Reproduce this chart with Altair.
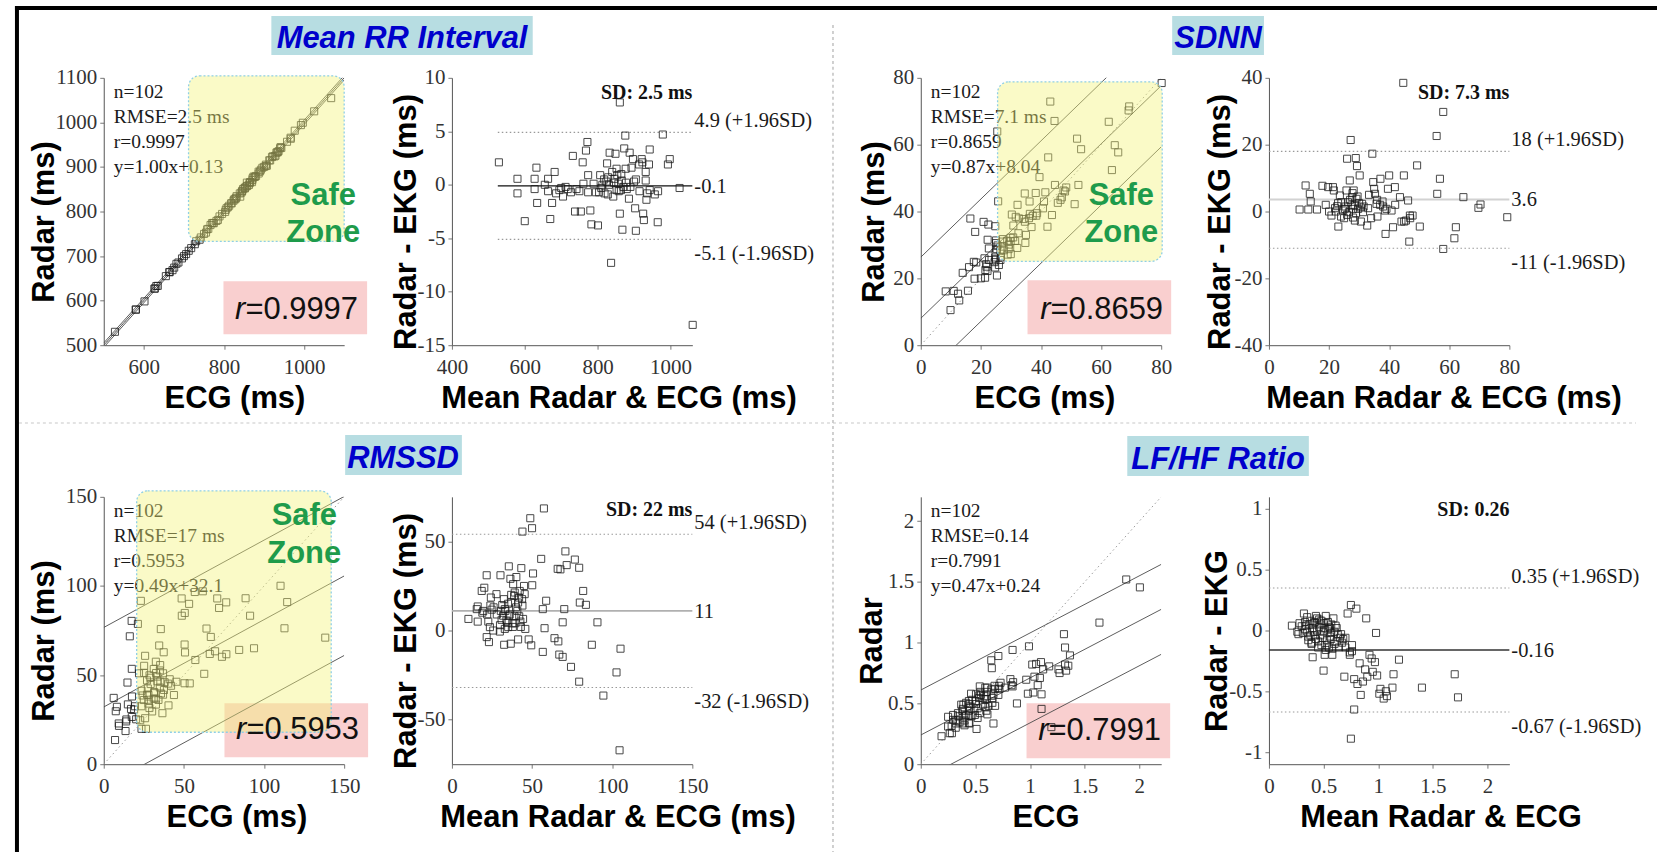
import altair as alt
import pandas as pd

SERIF = "Liberation Serif"
SANS = "Liberation Sans"

# ---------------- data (Bland-Altman means / differences) ----------------
MRR_MEAN = [529, 580, 580, 600, 627, 627, 632, 634, 655, 664,
            664, 670, 675, 682, 686, 695, 700, 705, 712, 718,
            727, 732, 738, 742, 750, 754, 759, 761, 768, 772,
            774, 774, 780, 783, 789, 795, 801, 804, 807, 810,
            813, 818, 819, 824, 826, 828, 829, 831, 833, 837,
            840, 843, 845, 846, 849, 852, 852, 854, 857, 858,
            861, 861, 864, 865, 866, 868, 871, 873, 876, 877,
            878, 880, 886, 888, 890, 893, 897, 900, 903, 905,
            905, 914, 915, 921, 923, 925, 927, 932, 932, 934,
            936, 941, 943, 943, 957, 965, 966, 979, 993, 998,
            1025, 1061]
MRR_DIFF = [2.1, 0.56, -0.8, -3.4, 0.56, -0.4, 1.6, -1.7, 0.0, 0.56,
            -0.6, -3.2, -1.7, 1.2, -0.8, -0.5, -0.3, -1.1, -0.2, -0.4,
            -0.7, 2.7, -2.5, -0.4, -0.6, -2.5, 2.1, 0.1, 3.2, 4.0,
            0.9, -0.7, -2.4, -3.7, 0.1, -0.7, -3.8, -0.7, 0.9, -0.3,
            0.0, 0.5, -0.8, 0.3, 2.0, -0.9, 0.7, 0.0, 3.0, -7.3,
            1.2, -1.1, 0.2, 0.56, 2.9, -0.5, 1.5, 0.9, 0.1, -0.6,
            -2.7, 7.7, -0.5, 1.0, 0.4, -4.2, -0.2, 3.4, 4.6, 1.5,
            0.2, -0.4, -1.3, 3.0, -0.2, 1.6, 2.4, 0.3, -2.2, -4.3,
            0.5, 1.9, -0.6, 2.4, 2.1, -2.7, -3.3, 1.2, 0.4, -1.4,
            -0.8, 1.9, 3.3, -0.5, -0.9, -3.5, -0.6, 4.7, 1.9, 2.4,
            -0.3, -13.1]

SDNN_MEAN = [10.2, 12.2, 13.1, 13.6, 13.9, 16.0, 17.8, 18.9, 19.7, 20.0,
             20.8, 21.3, 21.6, 22.0, 22.2, 22.7, 23.0, 23.1, 23.6, 24.0,
             24.1, 24.7, 25.0, 25.3, 25.5, 25.8, 26.0, 26.0, 26.3, 26.6,
             26.9, 27.0, 27.2, 27.4, 27.7, 28.0, 28.0, 28.2, 28.5, 28.6,
             28.9, 29.0, 29.1, 29.3, 29.5, 29.7, 30.2, 30.5, 30.6, 31.0,
             31.3, 31.5, 32.7, 33.0, 33.3, 34.0, 34.4, 34.7, 35.0, 35.3,
             35.8, 36.0, 36.1, 37.0, 37.1, 37.8, 38.0, 38.6, 38.8, 39.1,
             39.6, 40.0, 40.8, 41.3, 41.9, 42.0, 43.6, 44.1, 44.7, 44.9,
             45.0, 45.6, 46.3, 46.7, 46.9, 47.0, 47.8, 49.3, 50.2, 55.8,
             56.0, 56.9, 58.0, 58.0, 61.7, 62.2, 64.7, 69.7, 70.4, 79.3,
             27.8, 30.0]
SDNN_DIFF = [0.6, 7.8, 0.6, 5.3, 3.0, 0.6, 7.7, 2.0, 7.3, 0.0,
             -1.2, 7.3, 6.3, 1.0, 0.0, 1.6, 2.5, -4.5, 4.8, -1.5,
             2.8, 0.3, -2.0, 0.8, 1.5, 6.3, 15.8, -1.0, 2.8, -0.2,
             9.3, 3.5, 21.4, 1.8, 4.3, 0.8, -1.8, 6.3, 2.0, -2.7,
             16.0, -0.5, 3.8, 13.6, 4.5, 0.8, 10.8, 1.2, -3.0, 2.3,
             -0.2, 1.5, -4.2, 1.0, 5.0, -2.0, 17.3, 8.8, 6.8, 5.3,
             2.3, 3.5, -1.5, 2.0, 9.8, 3.0, 1.5, 0.3, -6.7, 0.8,
             6.8, 10.8, 0.3, -4.7, 7.3, 2.0, 4.3, -3.0, 38.5, 10.8,
             -3.0, -2.7, 3.3, -9.0, -1.2, -2.0, -1.2, 13.8, -4.5, 22.6,
             5.3, 9.8, -11.2, 29.8, -8.0, -4.7, 4.3, 1.1, 2.1, -1.7,
             5.5, 2.5]

RMSSD_MEAN = [10.3, 16.1, 15.5, 16.1, 18.6, 19.0, 19.6, 20.2, 21.7, 21.7,
              22.0, 22.7, 23.1, 23.7, 24.0, 24.3, 24.8, 25.8, 26.0, 27.8,
              28.0, 29.9, 30.0, 30.3, 30.5, 31.0, 31.4, 32.0, 32.4, 32.6,
              33.0, 33.0, 33.4, 34.0, 34.6, 35.0, 35.1, 35.5, 35.7, 36.0,
              36.5, 36.7, 37.0, 37.1, 37.7, 38.0, 38.2, 38.8, 39.0, 39.2,
              39.6, 40.0, 40.2, 40.8, 41.3, 41.3, 41.9, 42.0, 42.3, 42.7,
              43.0, 43.3, 43.8, 44.0, 44.0, 44.4, 45.0, 45.4, 45.8, 47.9,
              48.9, 49.5, 50.0, 50.1, 50.6, 55.7, 56.7, 56.7, 57.4, 57.8,
              58.8, 64.0, 66.0, 66.4, 67.0, 67.7, 69.1, 69.1, 70.1, 70.8,
              71.6, 74.3, 76.7, 79.4, 79.4, 79.8, 81.9, 83.6, 87.3, 90.8,
              94.5, 102.7, 104.6, 105.2]
RMSSD_DIFF = [6.5, 5.0, 12.0, 13.5, 22.2, 10.0, 11.0, 24.0, 31.0, -3.7,
              9.0, 5.0, -6.5, 1.9, 14.0, 18.5, 11.7, 0.0, 13.0, 20.4,
              9.0, -0.6, 3.0, 31.0, 11.0, 6.0, 14.3, 8.3, 17.6, -8.0,
              0.9, 12.0, 11.0, 5.6, 4.3, 15.0, 1.9, 36.0, 8.3, 9.0,
              29.0, -7.4, 20.0, 15.7, 4.0, 2.0, 26.0, 19.4, 8.0, 21.3,
              4.1, 13.0, 30.0, 11.0, -5.0, 15.7, 18.5, 8.0, 22.2, 5.0,
              2.0, 35.0, 17.6, 55.5, 14.0, 6.5, 25.0, 20.4, 0.9, -5.0,
              63.0, -8.3, 57.4, 25.4, 32.0, 40.2, -12.0, 12.0, 68.5, 1.3,
              16.7, -4.3, 34.6, -6.1, -13.5, 34.3, -14.8, 4.6, 12.0, 44.4,
              36.7, -20.4, 39.8, 35.2, -28.7, 15.7, 22.2, 14.4, -8.0, 4.6,
              -36.5, -23.5, -67.2, -10.2]

LFHF_MEAN = [0.21, 0.26, 0.27, 0.28, 0.30, 0.31, 0.32, 0.33, 0.33, 0.34,
             0.35, 0.35, 0.36, 0.36, 0.37, 0.38, 0.38, 0.39, 0.39, 0.40,
             0.40, 0.41, 0.41, 0.42, 0.42, 0.43, 0.43, 0.44, 0.44, 0.45,
             0.45, 0.46, 0.46, 0.47, 0.47, 0.48, 0.48, 0.49, 0.50, 0.50,
             0.50, 0.51, 0.51, 0.52, 0.52, 0.53, 0.53, 0.54, 0.54, 0.55,
             0.55, 0.56, 0.56, 0.57, 0.57, 0.57, 0.58, 0.58, 0.59, 0.60,
             0.60, 0.61, 0.62, 0.62, 0.63, 0.64, 0.65, 0.66, 0.67, 0.68,
             0.69, 0.70, 0.70, 0.72, 0.74, 0.74, 0.75, 0.75, 0.76, 0.76,
             0.78, 0.78, 0.80, 0.81, 0.83, 0.84, 0.86, 0.88, 0.89, 0.90,
             0.92, 0.94, 0.95, 0.97, 0.98, 0.99, 1.01, 1.02, 1.05, 1.07,
             1.08, 1.13, 1.14, 1.19, 1.40, 1.70, 1.73]
LFHF_DIFF = [0.04, -0.01, -0.03, 0.06, 0.035, -0.02, 0.14, 0.01, 0.07, 0.04,
             0.11, -0.01, -0.05, -0.08, 0.05, -0.04, 0.08, -0.11, -0.10, -0.22,
             0.02, -0.01, 0.06, 0.07, -0.04, -0.07, 0.12, 0.10, 0.0, -0.14,
             -0.09, 0.03, 0.09, -0.04, 0.05, 0.08, -0.12, -0.06, -0.33, -0.01,
             0.06, -0.20, 0.02, 0.12, -0.16, -0.08, -0.12, 0.01, 0.07, -0.14,
             0.03, -0.05, 0.02, 0.05, -0.07, -0.02, -0.20, -0.15, 0.10, -0.01,
             -0.11, 0.04, -0.09, 0.02, -0.03, -0.14, -0.06, -0.03, -0.10, -0.07,
             -0.38, -0.14, -0.06, 0.14, -0.18, -0.20, 0.21, -0.89, -0.12, -0.17,
             -0.40, -0.65, 0.18, -0.44, -0.27, -0.53, -0.42, -0.32, 0.10, -0.38,
             -0.20, -0.23, -0.34, -0.26, -0.02, -0.37, -0.52, -0.48, -0.56, -0.50,
             -0.54, -0.47, -0.36, -0.24, -0.47, -0.36, -0.55]

# regression: slope, intercept, half width of the parallel limit lines
MRR_FIT = [1.00, 0.13, 4.9]
SDNN_FIT = [0.87, 8.04, 18.3]
RMSSD_FIT = [0.49, 32.1, 44.6]
LFHF_FIT = [0.47, 0.24, 0.37]

# Bland-Altman: mean bias, +1.96SD, -1.96SD
MRR_BA = [-0.1, 4.9, -5.1]
SDNN_BA = [3.6, 18, -11]
RMSSD_BA = [11, 54, -32]
LFHF_BA = [-0.16, 0.35, -0.67]

MRR_BA_LABELS = ["-0.1", "4.9 (+1.96SD)", "-5.1 (-1.96SD)"]
SDNN_BA_LABELS = ["3.6", "18 (+1.96SD)", "-11 (-1.96SD)"]
RMSSD_BA_LABELS = ["11", "54 (+1.96SD)", "-32 (-1.96SD)"]
LFHF_BA_LABELS = ["-0.16", "0.35 (+1.96SD)", "-0.67 (-1.96SD)"]

SD_TEXT = ["SD: 2.5 ms", "SD: 7.3 ms", "SD: 22 ms", "SD: 0.26"]

STATS = [
    ["n=102", "RMSE=2.5 ms", "r=0.9997", "y=1.00x+0.13"],
    ["n=102", "RMSE=7.1 ms", "r=0.8659", "y=0.87x+8.04"],
    ["n=102", "RMSE=17 ms", "r=0.5953", "y=0.49x+32.1"],
    ["n=102", "RMSE=0.14", "r=0.7991", "y=0.47x+0.24"],
]
R_VALUES = ["=0.9997", "=0.8659", "=0.5953", "=0.7991"]
TITLES = ["Mean RR Interval", "SDNN", "RMSSD", "LF/HF Ratio"]

# tick labels
MRR_X_TICKS = [600, 800, 1000]
MRR_Y_TICKS = [500, 600, 700, 800, 900, 1000, 1100]
MRR_BA_X_TICKS = [400, 600, 800, 1000]
MRR_BA_Y_TICKS = [-15, -10, -5, 0, 5, 10]
SDNN_TICKS = [0, 20, 40, 60, 80]
SDNN_BA_Y_TICKS = [-40, -20, 0, 20, 40]
RMSSD_TICKS = [0, 50, 100, 150]
RMSSD_BA_Y_TICKS = [-50, 0, 50]
LFHF_TICKS = [0, 0.5, 1, 1.5, 2]
LFHF_BA_Y_TICKS = [-1, -0.5, 0, 0.5, 1]

W, H = 241, 268
ONE = pd.DataFrame({"a": [0]})
BLUE = "#0000cc"
TEAL = "#b7dde2"
PINK = "#f9cfcf"
GREEN = "#1e9b4b"
PT_SIZE = 50


def sc(dom):
    return alt.Scale(domain=dom, nice=False, zero=False)


def ax_x(values, title, tx):
    return alt.Axis(values=values, title=title, titleX=tx, titleY=62, titleAlign="center",
                    titleBaseline="alphabetic", labelExpr="'' + datum.value",
                    labelFlush=False, labelOverlap=False, grid=False, labelPadding=7)


def ax_y(values, title, tx):
    return alt.Axis(values=values, title=title, titleX=tx, titleY=144, titleAlign="center",
                    titleAngle=270, titleBaseline="middle", labelExpr="'' + datum.value",
                    labelFlush=False, labelOverlap=False, grid=False, labelPadding=3)


def drect(x, x2, y, y2, **kw):
    return alt.Chart(ONE).mark_rect(**kw).encode(
        x=alt.value(x), x2=alt.value(x2), y=alt.value(y), y2=alt.value(y2))


def dtext(txt, x, y, **kw):
    return alt.Chart(ONE).mark_text(**kw).encode(
        x=alt.value(x), y=alt.value(y), text=alt.value(txt))


def drule(x, x2, y, y2, **kw):
    return alt.Chart(ONE).mark_rule(**kw).encode(
        x=alt.value(x), x2=alt.value(x2), y=alt.value(y), y2=alt.value(y2))


def scatter_panel(i, mean, diff, fit, dom, xticks, yticks, xtitle, ytitle, xtx, ytx,
                  title_box, rbox, zone, safe_xy, extra=None):
    ecg = [m - d / 2 for m, d in zip(mean, diff)]
    radar = [m + d / 2 for m, d in zip(mean, diff)]
    df = pd.DataFrame({"x": ecg, "y": radar})
    X = alt.X("x:Q", scale=sc(dom), axis=ax_x(xticks, xtitle, xtx))
    Y = alt.Y("y:Q", scale=sc(dom), axis=ax_y(yticks, ytitle, ytx))
    slope, icpt, half = fit
    x0, x1 = dom
    rows = []
    for k, off in (("fit", 0), ("up", half), ("lo", -half)):
        rows.append({"x": x0, "y": slope * x0 + icpt + off, "k": k})
        rows.append({"x": x1, "y": slope * x1 + icpt + off, "k": k})
    ldf = pd.DataFrame(rows)
    idf = pd.DataFrame({"x": [x0, x1], "y": [x0, x1]})

    layers = list(extra or [])
    bx0, bx1, by0, by1, tx = title_box
    layers.append(drect(bx0, bx1, by0, by1, fill=TEAL))
    layers.append(dtext(TITLES[i], tx, by1 - 7, font=SANS, fontSize=31, fontWeight="bold",
                        fontStyle="italic", color=BLUE, align="center", baseline="alphabetic"))
    rx0, rx1, ry0, ry1, split, base = rbox
    layers.append(drect(rx0, rx1, ry0, ry1, fill=PINK))
    layers.append(alt.Chart(idf).mark_line(clip=True, color="#999", strokeWidth=1,
                                           strokeDash=[1.5, 3]).encode(x=X, y=Y))
    layers.append(alt.Chart(ldf).mark_line(clip=True, color="#4a4a4a", strokeWidth=0.9).encode(
        x=X, y=Y, detail="k:N"))
    layers.append(alt.Chart(df).mark_point(shape="square", filled=False, size=PT_SIZE,
                                           strokeWidth=1, color="#1a1a1a",
                                           opacity=0.8).encode(x=X, y=Y))
    layers.append(dtext("\n".join(STATS[i]), 10, 20, font=SERIF, fontSize=19.5, color="#1a1a1a",
                        align="left", baseline="alphabetic", lineBreak="\n", lineHeight=25))
    if zone is not None:
        zx0, zx1, zy0, zy1 = zone
        layers.append(drect(zx0, zx1, zy0, zy1, fill="#f3f37a", fillOpacity=0.42,
                            stroke="#8fcfe6", strokeDash=[2, 2], strokeWidth=1.3, cornerRadius=11))
        sx, sy = safe_xy
        layers.append(dtext("Safe\nZone", sx, sy, font=SANS, fontSize=31, fontWeight="bold",
                            color=GREEN, align="center", baseline="alphabetic",
                            lineBreak="\n", lineHeight=38))
    layers.append(dtext("r", split, base, font=SANS, fontSize=31, fontStyle="italic",
                        color="#111", align="right", baseline="alphabetic"))
    layers.append(dtext(R_VALUES[i], split, base, font=SANS, fontSize=31,
                        color="#111", align="left", baseline="alphabetic"))
    return alt.layer(*layers).properties(width=W, height=H)


def ba_panel(i, mean, diff, xdom, xticks, ydom, yticks, xtitle, ytitle, xtx, ytx,
             ba, labels, line_x, mean_color, mean_width, sd_y):
    df = pd.DataFrame({"x": mean, "y": diff})
    X = alt.X("x:Q", scale=sc(xdom), axis=ax_x(xticks, xtitle, xtx))
    Y = alt.Y("y:Q", scale=sc(ydom), axis=ax_y(yticks, ytitle, ytx))
    lx0, lx1 = line_x
    mdf = pd.DataFrame({"x": [lx0, lx1], "y": [ba[0], ba[0]]})
    ddf = pd.DataFrame({"x": [lx0, lx1, lx0, lx1], "y": [ba[1], ba[1], ba[2], ba[2]],
                        "k": ["u", "u", "l", "l"]})
    layers = [
        alt.Chart(ddf).mark_line(color="#999", strokeWidth=1.1, strokeDash=[1.5, 2.5]).encode(
            x=X, y=Y, detail="k:N"),
        alt.Chart(mdf).mark_line(color=mean_color, strokeWidth=mean_width).encode(x=X, y=Y),
        alt.Chart(df).mark_point(shape="square", filled=False, size=PT_SIZE, strokeWidth=1,
                                 color="#1a1a1a", opacity=0.8).encode(x=X, y=Y),
        dtext(SD_TEXT[i], W, sd_y, font=SERIF, fontSize=20, fontWeight="bold", color="#111",
              align="right", baseline="alphabetic"),
    ]
    specs = [(0, "middle", 1), (1, "alphabetic", -5), (2, "top", 5)]
    for j, bl, dy in specs:
        tdf = pd.DataFrame({"y": [ba[j]], "t": [labels[j]]})
        layers.append(alt.Chart(tdf).mark_text(font=SERIF, fontSize=20.5, color="#1a1a1a",
                                               align="left", baseline=bl, dy=dy).encode(
            x=alt.value(W + 2), y=Y, text="t:N"))
    return alt.layer(*layers).properties(width=W, height=H)


# page decorations (outer frame and dotted quadrant dividers), placed from panel 1
frame = [
    drule(-87, -87, -72, 777, color="#000", strokeWidth=4),
    drule(-89, 1557, -70, -70, color="#000", strokeWidth=4),
    drule(731, 731, -53, 777, color="#aaa", strokeWidth=1.1, strokeDash=[3, 3]),
    drule(-85, 1536, 346, 346, color="#c8c8c8", strokeWidth=1.1, strokeDash=[3, 3]),
]

p1 = scatter_panel(0, MRR_MEAN, MRR_DIFF, MRR_FIT, [500, 1100], MRR_X_TICKS, MRR_Y_TICKS,
                   "ECG (ms)", "Radar (ms)", 131, -59,
                   (168, 430, -62, -23, 299), (120, 264, 204, 257, 142, 242),
                   (85, 241, -2, 164), (220, 127), extra=frame)
p2 = ba_panel(0, MRR_MEAN, MRR_DIFF, [400, 1060], MRR_BA_X_TICKS, [-15, 10],
              MRR_BA_Y_TICKS, "Mean Radar & ECG (ms)", "Radar - EKG (ms)", 167, -45,
              MRR_BA, MRR_BA_LABELS, (526, 1060), "#111", 1.3, 21)
p3 = scatter_panel(1, SDNN_MEAN, SDNN_DIFF, SDNN_FIT, [0, 80], SDNN_TICKS, SDNN_TICKS,
                   "ECG (ms)", "Radar (ms)", 124, -46,
                   (252, 344, -62, -23, 298), (107, 251, 203, 257, 130, 242),
                   (77, 242, 4, 184), (201, 127))
p4 = ba_panel(1, SDNN_MEAN, SDNN_DIFF, [0, 80], SDNN_TICKS, [-40, 40],
              SDNN_BA_Y_TICKS, "Mean Radar & ECG (ms)", "Radar - EKG (ms)", 175, -49,
              SDNN_BA, SDNN_BA_LABELS, (0, 80), "#d2d2d2", 2.2, 21)
p5 = scatter_panel(2, RMSSD_MEAN, RMSSD_DIFF, RMSSD_FIT, [0, 150], RMSSD_TICKS, RMSSD_TICKS,
                   "ECG (ms)", "Radar (ms)", 133, -59,
                   (242, 359, -62, -22, 300), (121, 265, 207, 261, 143, 243),
                   (33, 228, -6, 236), (201, 28))
p6 = ba_panel(2, RMSSD_MEAN, RMSSD_DIFF, [0, 150], RMSSD_TICKS, [-75, 75],
              RMSSD_BA_Y_TICKS, "Mean Radar & ECG (ms)", "Radar - EKG (ms)", 166, -45,
              RMSSD_BA, RMSSD_BA_LABELS, (0, 150), "#b0b0b0", 1.6, 19)
p7 = scatter_panel(3, LFHF_MEAN, LFHF_DIFF, LFHF_FIT, [0, 2.2], LFHF_TICKS, LFHF_TICKS,
                   "ECG", "Radar", 125, -48,
                   (207, 389, -61, -21, 298), (106, 250, 207, 262, 128, 244),
                   None, None)
p8 = ba_panel(3, LFHF_MEAN, LFHF_DIFF, [0, 2.2], LFHF_TICKS, [-1.1, 1.1],
              LFHF_BA_Y_TICKS, "Mean Radar & ECG", "Radar - EKG", 172, -52,
              LFHF_BA, LFHF_BA_LABELS, (0, 2.2), "#333", 1.5, 19)


def spacer():
    return alt.Chart(ONE).mark_point(opacity=0).encode(
        x=alt.value(0), y=alt.value(0)).properties(width=13, height=H)


chart = alt.concat(p1, p2, spacer(), p3, p4, p5, p6, spacer(), p7, p8,
                   columns=5, spacing={"row": 152, "column": 108},
                   bounds="flush", align="each").properties(
    padding={"left": 13, "top": 3, "right": 0, "bottom": 0},
    background="white",
).configure_view(stroke=None).configure_axis(
    domainColor="#555", domainWidth=1, tickColor="#777", tickSize=4, tickWidth=1,
    labelFont=SERIF, labelFontSize=21, labelColor="#333",
    titleFont=SANS, titleFontSize=31, titleFontWeight="bold", titleColor="#000",
)

chart.save("out.html", embed_options={"renderer": "svg", "actions": False})
